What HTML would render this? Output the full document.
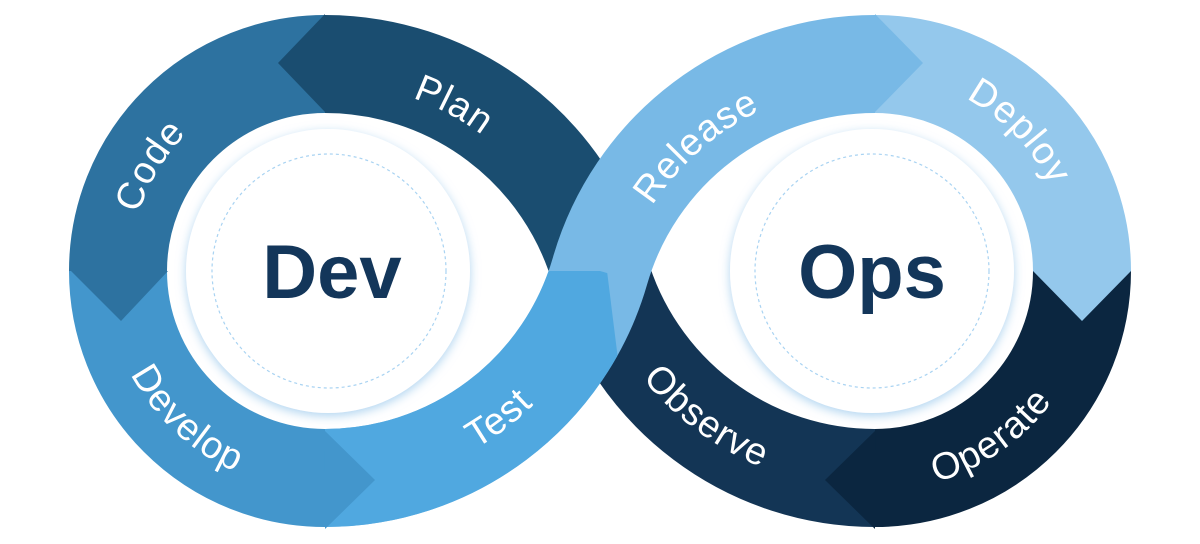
<!DOCTYPE html>
<html><head><meta charset="utf-8"><style>
html,body{margin:0;padding:0;background:#fff;}
svg{display:block;}
.lbl{font-family:"Liberation Sans",sans-serif;font-size:38px;fill:#fff;letter-spacing:1px;}
.big{font-family:"Liberation Sans",sans-serif;font-size:76px;font-weight:bold;fill:#13365a;}
</style></head><body>
<svg width="1200" height="544" viewBox="0 0 1200 544" xmlns="http://www.w3.org/2000/svg">
<defs>
<clipPath id="testclip"><polygon points="325,271 607,271 641,544 325,544"/></clipPath>
<filter id="sh" x="-20%" y="-20%" width="140%" height="140%">
<feDropShadow dx="0" dy="3" stdDeviation="5" flood-color="#8fc2ea" flood-opacity="0.7"/>
</filter>
<path id="pPlan" d="M290.8,84.5 A266,266 0 0 1 561.2,229.5"/>
<path id="pCode" d="M140.6,334.5 A195,195 0 0 1 294.5,78.4"/>
<path id="pDev" d="M105.3,259.5 A220,220 0 0 0 351.8,489.4"/>
<path id="pTest" d="M338,489.5 A298,298 0 0 0 609.2,281.4"/>
<path id="pRel" d="M616.9,288.5 A266,266 0 0 1 847.2,85.7"/>
<path id="pDep" d="M861.4,76.5 A195,195 0 0 1 1068.9,291.4"/>
<path id="pObs" d="M591.9,284.9 A298,298 0 0 0 865.6,489.7"/>
<path id="pOpe" d="M818.1,483.5 A220,220 0 0 0 1094.2,290.2"/>
</defs>
<g fill="none" stroke-width="98" stroke-linecap="butt">
<path d="M325,64 A207,207 0 0 0 118,271" stroke="#2d72a0"/>
<path d="M118,271 A207,207 0 0 0 325,478" stroke="#4396cc"/>
<path d="M875,64 A207,207 0 0 1 1082,271" stroke="#94c8ec"/>
<path d="M875,478 A207,207 0 0 0 1082,271" stroke="#0b2640"/>
<path d="M325,64 A286.2,286.2 0 0 1 600,271" stroke="#1a4d70"/>
<path d="M600,271 A286.2,286.2 0 0 0 875,478" stroke="#133555"/>
<path d="M325,478 A286.2,286.2 0 0 0 600,271 A286.2,286.2 0 0 1 875,64" stroke="#78b9e6"/>
<path d="M325,478 A286.2,286.2 0 0 0 600,271" stroke="#50a8e0" clip-path="url(#testclip)"/>
</g>
<polygon points="325,14 278,63 325,112" fill="#1a4d70"/>
<polygon points="71,271 121,321 168,271" fill="#2d72a0"/>
<polygon points="325,529 375,480 325,431" fill="#4396cc"/>
<polygon points="875,14 923,63 875,112" fill="#78b9e6"/>
<polygon points="1131,271 1082,321 1033,271" fill="#94c8ec"/>
<polygon points="875,529 825,480 875,431" fill="#0b2640"/>
<circle cx="328" cy="271" r="142" fill="#fff" filter="url(#sh)"/>
<circle cx="872" cy="271" r="142" fill="#fff" filter="url(#sh)"/>
<circle cx="329" cy="271" r="117" fill="none" stroke="#a9d3f2" stroke-width="1.2" stroke-dasharray="3,3"/>
<circle cx="872" cy="271" r="117" fill="none" stroke="#a9d3f2" stroke-width="1.2" stroke-dasharray="3,3"/>
<text x="332" y="298" text-anchor="middle" class="big">Dev</text>
<text x="872" y="298" text-anchor="middle" class="big">Ops</text>
<text class="lbl"><textPath href="#pPlan" startOffset="50%" text-anchor="middle">Plan</textPath></text>
<text class="lbl"><textPath href="#pCode" startOffset="50%" text-anchor="middle">Code</textPath></text>
<text class="lbl"><textPath href="#pDev" startOffset="50%" text-anchor="middle">Develop</textPath></text>
<text class="lbl"><textPath href="#pTest" startOffset="50%" text-anchor="middle">Test</textPath></text>
<text class="lbl"><textPath href="#pRel" startOffset="50%" text-anchor="middle">Release</textPath></text>
<text class="lbl"><textPath href="#pDep" startOffset="50%" text-anchor="middle">Deploy</textPath></text>
<text class="lbl"><textPath href="#pObs" startOffset="50%" text-anchor="middle">Observe</textPath></text>
<text class="lbl"><textPath href="#pOpe" startOffset="50%" text-anchor="middle">Operate</textPath></text>
</svg>
</body></html>
